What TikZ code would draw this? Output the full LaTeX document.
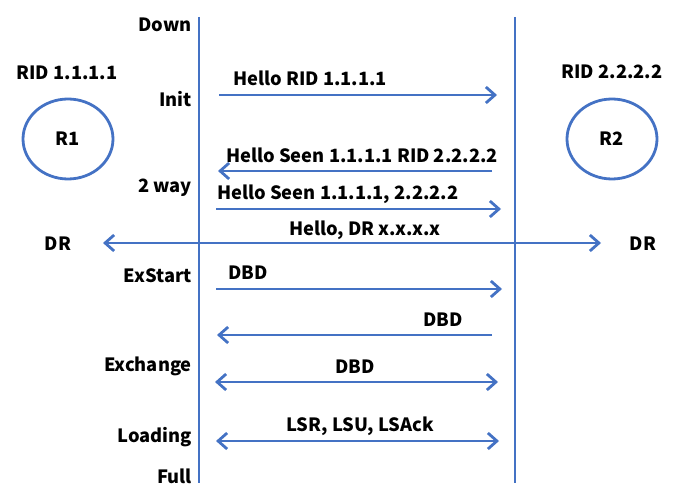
\documentclass[tikz,border=0pt]{standalone}
\usepackage{fontspec}
\setmainfont{Noto Sans CJK SC}
\usepackage{tikz}
\usetikzlibrary{
  arrows.meta,
  positioning,
  shapes.geometric,
}
\definecolor{lineblue}{RGB}{68, 114, 196}
\tikzstyle{msg} = [
  -{Straight Barb[length=9pt,width=16pt,line width=2.8pt]},
  line width=2.8pt,
  lineblue,
]
\tikzstyle{both} = [
  msg,
  {Straight Barb[length=9pt,width=16pt,line width=2.8pt]}-{Straight Barb[length=9pt,width=16pt,line width=2.8pt]},
]
\tikzstyle{label} = [
  font=\fontsize{18.3}{22}\selectfont\bfseries,
  text=black,
  inner sep=0pt,
]
\tikzstyle{router} = [
  ellipse,
  draw=lineblue,
  line width=2.8pt,
  minimum width=90pt,
  minimum height=80pt,
  label,
]

\begin{document}
\begin{tikzpicture}[x=1pt, y=-1pt]

        \useasboundingbox (0,0) rectangle (683,502);

        % lifelines
        \coordinate (l top) at (199,17);
        \coordinate (l bot) at (199,483);
        \coordinate (r top) at (515,17);
        \coordinate (r bot) at (515,483);
        \draw [line width=2.8pt, lineblue] (l top) -- (l bot);
        \draw [line width=2.8pt, lineblue] (r top) -- (r bot);

        % routers
        \node [router] (r1) at (68,139) {R1};
        \node [router] (r2) at (612,139) {R2};
        \node [label] (rid1) at (67,73) {RID 1.1.1.1};
        \node [label] (rid2) at (612,72) {RID 2.2.2.2};

        % states
        \node [label, anchor=east] (down) at (192,25) {Down};
        \node [label, anchor=east] (init) at (192,99) {Init};
        \node [label, anchor=east] (twoway) at (192,188) {2 way};
        \node [label, anchor=east] (exstart) at (192,276) {ExStart};
        \node [label, anchor=east] (exchange) at (192,366) {Exchange};
        \node [label, anchor=east] (loading) at (192,437) {Loading};
        \node [label, anchor=east] (full) at (192,476) {Full};

        \node [label] (dr1) at (58,244) {DR};
        \node [label] (dr2) at (643,244) {DR};

        % hello
        \coordinate (a1) at (219,95);
        \coordinate (b1) at (497,95);
        \draw [msg] (a1) -- (b1);
        \node [label, anchor=west] (m1) at (233,78) {Hello RID 1.1.1.1};

        \coordinate (a2) at (492,171);
        \coordinate (b2) at (218,171);
        \draw [msg] (a2) -- (b2);
        \node [label, anchor=west] (m2) at (226,155) {Hello Seen 1.1.1.1 RID 2.2.2.2};

        \coordinate (a3) at (216,209);
        \coordinate (b3) at (501,209);
        \draw [msg] (a3) -- (b3);
        \node [label, anchor=west] (m3) at (217,194) {Hello Seen 1.1.1.1, 2.2.2.2};

        \coordinate (a4) at (103,243);
        \coordinate (b4) at (601,243);
        \draw [both] (a4) -- (b4);
        \node [label] (m4) at (365,230) {Hello, DR x.x.x.x};

        % database exchange
        \coordinate (a5) at (216,289);
        \coordinate (b5) at (502,289);
        \draw [msg] (a5) -- (b5);
        \node [label, anchor=west] (m5) at (228,273) {DBD};

        \coordinate (a6) at (492,335);
        \coordinate (b6) at (217,335);
        \draw [msg] (a6) -- (b6);
        \node [label, anchor=east] (m6) at (463,320) {DBD};

        \coordinate (a7) at (215,382);
        \coordinate (b7) at (498,382);
        \draw [both] (a7) -- (b7);
        \node [label] (m7) at (355,367) {DBD};

        \coordinate (a8) at (216,441);
        \coordinate (b8) at (499,441);
        \draw [both] (a8) -- (b8);
        \node [label] (m8) at (360,426) {LSR, LSU, LSAck};
      \end{tikzpicture}
\end{document}
